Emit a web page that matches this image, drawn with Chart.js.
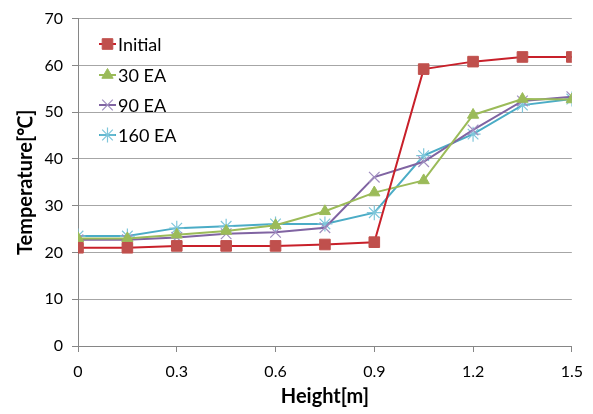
<!DOCTYPE html>
<html>
<head>
<meta charset="utf-8">
<script src="https://cdn.jsdelivr.net/npm/chart.js@4/dist/chart.umd.min.js"></script>
<style>
  html, body { margin: 0; padding: 0; background: #fff; }
  #wrap { position: relative; width: 593px; height: 414px; }
</style>
</head>
<body>
<div id="wrap"><canvas id="mainChart" width="593" height="414"></canvas></div>
<script>
const HEIGHTS = [0, 0.15, 0.3, 0.45, 0.6, 0.75, 0.9, 1.05, 1.2, 1.35, 1.5];
const INITIAL = [21.0, 21.0, 21.4, 21.4, 21.4, 21.7, 22.2, 59.2, 60.8, 61.8, 61.8];
const EA_30 = [23.0, 23.0, 23.8, 24.6, 25.8, 28.8, 32.8, 35.4, 49.4, 52.8, 52.7];
const EA_90 = [22.7, 22.7, 23.2, 24.0, 24.3, 25.3, 36.1, 39.4, 46.2, 52.4, 53.3];
const EA_160 = [23.5, 23.5, 25.2, 25.6, 26.1, 26.1, 28.5, 40.7, 45.3, 51.5, 52.8];
const SERIES_NAMES = ["Initial", "30 EA", "90 EA", "160 EA"];
const X_TICKS = [0, 0.3, 0.6, 0.9, 1.2, 1.5];

const FONT = "Lato, 'Open Sans', 'Liberation Sans', sans-serif";

const toPoints = (vals) => vals.map((v, i) => ({ x: HEIGHTS[i], y: v }));

const STYLES = [
  { line: "#c8202a", fill: "#c0504d", border: "#c0504d", point: "rect", r: 7.5, bw: 1 },
  { line: "#9bbb59", fill: "#9bbb59", border: "#9bbb59", point: "triangle", r: 6.5, bw: 1 },
  { line: "#8064a2", fill: "#8064a2", border: "#a08ec0", point: "crossRot", r: 7.5, bw: 1.2 },
  { line: "#4bacc6", fill: "#4bacc6", border: "#7fc6da", point: "star", r: 7.5, bw: 1.2 },
];

const insideLegend = {
  id: "insideLegend",
  afterDraw(chart) {
    const ctx = chart.ctx;
    const x0 = 99, x1 = 116, mx = 107.5, tx = 118;
    const rows = [44, 75, 105, 135];
    ctx.save();
    chart.data.datasets.forEach((ds, i) => {
      const y = rows[i];
      ctx.strokeStyle = ds.borderColor;
      ctx.lineWidth = 2;
      ctx.beginPath();
      ctx.moveTo(x0, y);
      ctx.lineTo(x1, y);
      ctx.stroke();
      ctx.fillStyle = ds.pointBackgroundColor;
      ctx.strokeStyle = ds.pointBorderColor;
      ctx.lineWidth = ds.pointBorderWidth;
      Chart.helpers.drawPoint(ctx, {
        pointStyle: ds.pointStyle,
        radius: ds.pointRadius,
        borderWidth: ds.pointBorderWidth,
        rotation: 0,
      }, mx, y);
      ctx.fillStyle = "#000";
      ctx.font = "18px " + FONT;
      ctx.textBaseline = "middle";
      ctx.textAlign = "left";
      ctx.fillText(ds.label, tx, y + 1);
    });
    ctx.restore();
  },
};

function initChart() {
  Chart.defaults.font.family = FONT;
  Chart.defaults.color = "#000";

  const allSeries = [INITIAL, EA_30, EA_90, EA_160];
  const datasets = allSeries.map((vals, i) => {
    const s = STYLES[i];
    return {
      label: SERIES_NAMES[i],
      data: toPoints(vals),
      borderColor: s.line,
      borderWidth: 2,
      pointStyle: s.point,
      pointRadius: s.r,
      pointHoverRadius: s.r,
      pointBackgroundColor: s.fill,
      pointBorderColor: s.border,
      pointBorderWidth: s.bw,
      tension: 0,
      fill: false,
    };
  });

  const ctx = document.getElementById("mainChart").getContext("2d");
  new Chart(ctx, {
    type: "line",
    data: { datasets },
    options: {
      responsive: false,
      animation: false,
      layout: { padding: { left: 0, right: 21, top: 18, bottom: 0 } },
      plugins: {
        legend: { display: false },
        tooltip: { enabled: false },
      },
      scales: {
        x: {
          type: "linear",
          min: 0,
          max: 1.5,
          afterFit: (s) => { s.height = 68; },
          afterBuildTicks: (s) => { s.ticks = X_TICKS.map((v) => ({ value: v })); },
          grid: {
            drawOnChartArea: false,
            drawTicks: true,
            tickLength: 6,
            color: "#868686",
          },
          border: { color: "#868686", width: 1 },
          ticks: {
            padding: 10,
            font: { size: 16 },
            color: "#000",
            callback: (v) => String(v),
          },
          title: {
            display: true,
            text: "Height[m]",
            font: { size: 20, weight: "bold" },
            color: "#000",
            padding: { top: 0, bottom: 5 },
          },
        },
        y: {
          min: 0,
          max: 70,
          afterFit: (s) => { s.width = 78; },
          grid: {
            color: "#a6a6a6",
            lineWidth: 1,
            drawTicks: true,
            tickLength: 6,
            tickColor: "#868686",
          },
          border: { color: "#868686", width: 1 },
          ticks: {
            stepSize: 10,
            padding: 9,
            font: { size: 16 },
            color: "#000",
          },
          title: {
            display: true,
            text: "Temperature[℃]",
            font: { size: 20, weight: "bold" },
            color: "#000",
            padding: { top: 14, bottom: 0 },
          },
        },
      },
    },
    plugins: [insideLegend],
  });
}

initChart();
</script>
</body>
</html>
